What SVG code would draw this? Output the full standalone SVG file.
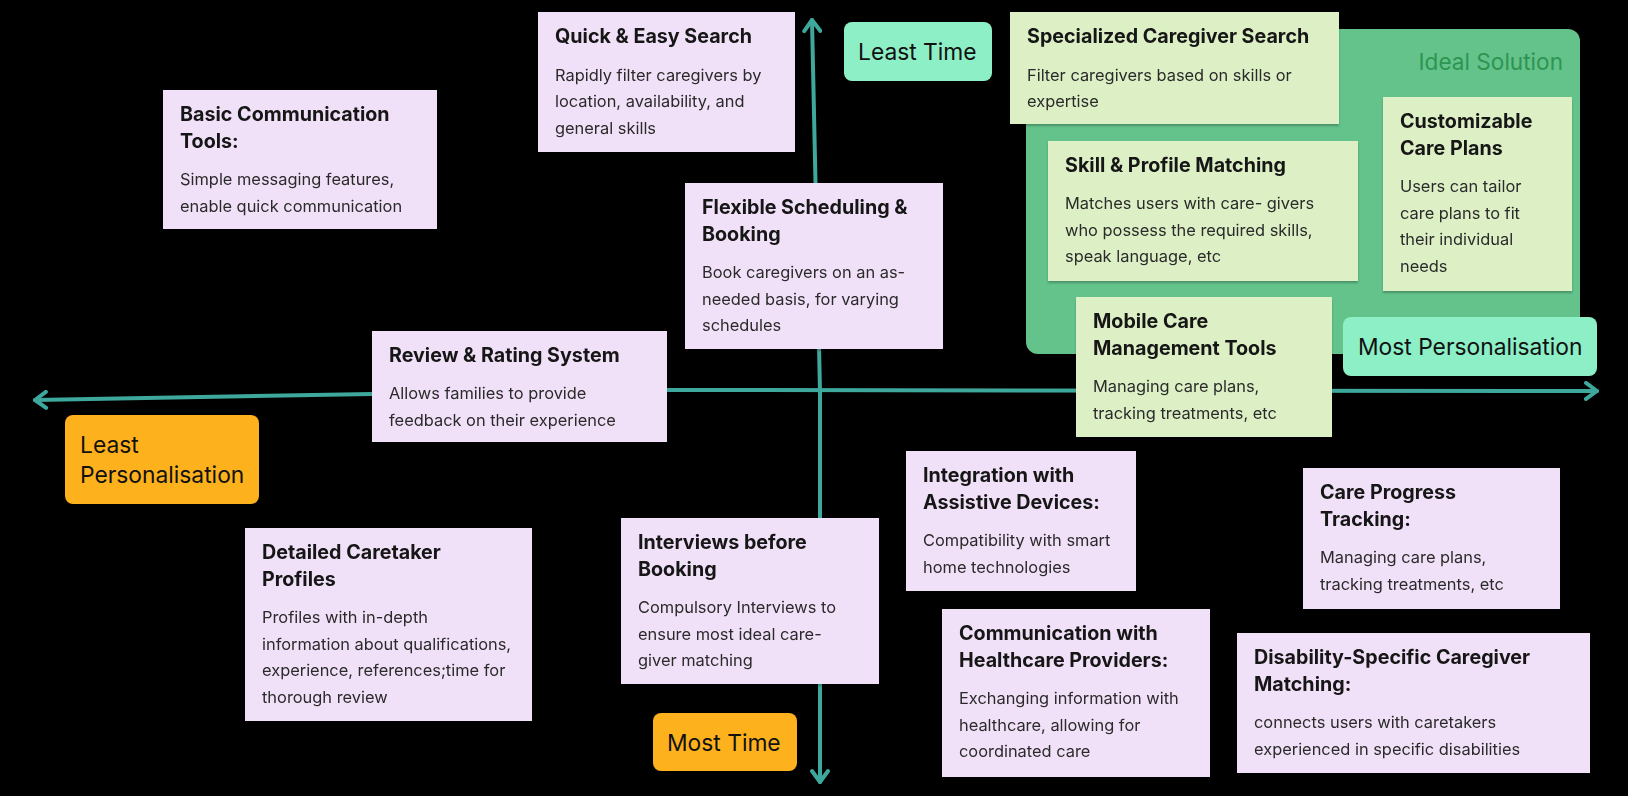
<svg xmlns="http://www.w3.org/2000/svg" width="1628" height="796" viewBox="0 0 1628 796">
<defs>
<style>
.t{font-family:Inter,"Liberation Sans",sans-serif;font-weight:700;font-size:19.7px;fill:#161616}
.b{font-family:Inter,"Liberation Sans",sans-serif;font-weight:400;font-size:16.4px;fill:#2a2a2a}
.l{font-family:Inter,"Liberation Sans",sans-serif;font-weight:400;font-size:22.8px;fill:#111}
.pu{fill:#f1e1f8}
.gr{fill:#ddf0c5}
.mint{fill:#8cefc6}
.or{fill:#fdb11d}
.ax{fill:none;stroke:#3ea89d;stroke-width:4;stroke-linejoin:round;stroke-linecap:round}
</style>
<marker id="arr" viewBox="0 0 20 20" refX="18" refY="10" markerWidth="20" markerHeight="20" markerUnits="userSpaceOnUse" orient="auto-start-reverse">
<path d="M7 2 L18 10 L7 18" fill="none" stroke="#3ea89d" stroke-width="4" stroke-linecap="round" stroke-linejoin="round"/>
</marker>
<filter id="sh" x="-5%" y="-5%" width="110%" height="115%">
<feDropShadow dx="0" dy="2" stdDeviation="1.2" flood-color="#000" flood-opacity="0.25"/>
</filter>
</defs>
<rect width="1628" height="796" fill="#000"/>

<g id="ideal-solution">
<rect x="1026" y="29" width="554" height="325" rx="12" fill="#63c38b"/>
<text x="1563" y="70" text-anchor="end" style="font-family:Inter,'Liberation Sans',sans-serif;font-size:22.6px;fill:#2e9551">Ideal Solution</text>
</g>

<g id="connectors">
<path class="ax" d="M35 400 L372 394 L660 390 L1597 391" marker-start="url(#arr)" marker-end="url(#arr)"/>
<path class="ax" d="M812 20 L820 392 L820 782" marker-start="url(#arr)" marker-end="url(#arr)"/>
</g>

<g id="quick-easy-search" filter="url(#sh)">
<rect class="pu" x="538" y="12" width="257" height="140"/>
<text class="t" x="555" y="42.5">Quick &amp; Easy Search</text>
<text class="b" x="555" y="80.5">Rapidly filter caregivers by</text>
<text class="b" x="555" y="107">location, availability, and</text>
<text class="b" x="555" y="133.5">general skills</text>
</g>

<g id="basic-communication" filter="url(#sh)">
<rect class="pu" x="163" y="90" width="274" height="139"/>
<text class="t" x="180" y="120.5">Basic Communication</text>
<text class="t" x="180" y="147.5">Tools:</text>
<text class="b" x="180" y="185">Simple messaging features,</text>
<text class="b" x="180" y="211.5">enable quick communication</text>
</g>

<g id="flexible-scheduling" filter="url(#sh)">
<rect class="pu" x="685" y="183" width="258" height="166"/>
<text class="t" x="702" y="213.5">Flexible Scheduling &amp;</text>
<text class="t" x="702" y="240.5">Booking</text>
<text class="b" x="702" y="278">Book caregivers on an as-</text>
<text class="b" x="702" y="304.5">needed basis, for varying</text>
<text class="b" x="702" y="331">schedules</text>
</g>

<g id="review-rating" filter="url(#sh)">
<rect class="pu" x="372" y="331" width="295" height="111"/>
<text class="t" x="389" y="361.5">Review &amp; Rating System</text>
<text class="b" x="389" y="399">Allows families to provide</text>
<text class="b" x="389" y="425.5">feedback on their experience</text>
</g>

<g id="least-personalisation">
<rect class="or" x="65" y="415" width="194" height="89" rx="8"/>
<text class="l" x="80" y="453">Least</text>
<text class="l" x="80" y="483">Personalisation</text>
</g>

<g id="detailed-caretaker-profiles" filter="url(#sh)">
<rect class="pu" x="245" y="528" width="287" height="193"/>
<text class="t" x="262" y="558.5">Detailed Caretaker</text>
<text class="t" x="262" y="585.5">Profiles</text>
<text class="b" x="262" y="623">Profiles with in-depth</text>
<text class="b" x="262" y="649.5">information about qualifications,</text>
<text class="b" x="262" y="676">experience, references;time for</text>
<text class="b" x="262" y="702.5">thorough review</text>
</g>

<g id="interviews-before-booking" filter="url(#sh)">
<rect class="pu" x="621" y="518" width="258" height="166"/>
<text class="t" x="638" y="548.5">Interviews before</text>
<text class="t" x="638" y="575.5">Booking</text>
<text class="b" x="638" y="613">Compulsory Interviews to</text>
<text class="b" x="638" y="639.5">ensure most ideal care-</text>
<text class="b" x="638" y="666">giver matching</text>
</g>

<g id="most-time">
<rect class="or" x="653" y="713" width="144" height="58" rx="8"/>
<text class="l" x="667" y="750.5">Most Time</text>
</g>

<g id="least-time">
<rect class="mint" x="844" y="22" width="148" height="59" rx="8"/>
<text class="l" x="858" y="59.5">Least Time</text>
</g>

<g id="specialized-caregiver-search" filter="url(#sh)">
<rect class="gr" x="1010" y="12" width="329" height="112"/>
<text class="t" x="1027" y="42.5">Specialized Caregiver Search</text>
<text class="b" x="1027" y="80.5">Filter caregivers based on skills or</text>
<text class="b" x="1027" y="107">expertise</text>
</g>

<g id="skill-profile-matching" filter="url(#sh)">
<rect class="gr" x="1048" y="141" width="310" height="140"/>
<text class="t" x="1065" y="171.5">Skill &amp; Profile Matching</text>
<text class="b" x="1065" y="209">Matches users with care- givers</text>
<text class="b" x="1065" y="235.5">who possess the required skills,</text>
<text class="b" x="1065" y="262">speak language, etc</text>
</g>

<g id="customizable-care-plans" filter="url(#sh)">
<rect class="gr" x="1383" y="97" width="189" height="194"/>
<text class="t" x="1400" y="127.5">Customizable</text>
<text class="t" x="1400" y="154.5">Care Plans</text>
<text class="b" x="1400" y="192">Users can tailor</text>
<text class="b" x="1400" y="218.5">care plans to fit</text>
<text class="b" x="1400" y="245">their individual</text>
<text class="b" x="1400" y="271.5">needs</text>
</g>

<g id="mobile-care-management" filter="url(#sh)">
<rect class="gr" x="1076" y="297" width="256" height="140"/>
<text class="t" x="1093" y="327.5">Mobile Care</text>
<text class="t" x="1093" y="354.5">Management Tools</text>
<text class="b" x="1093" y="392">Managing care plans,</text>
<text class="b" x="1093" y="418.5">tracking treatments, etc</text>
</g>

<g id="most-personalisation">
<rect class="mint" x="1343" y="317" width="254" height="59" rx="8"/>
<text class="l" x="1358" y="355">Most Personalisation</text>
</g>

<g id="integration-assistive-devices" filter="url(#sh)">
<rect class="pu" x="906" y="451" width="230" height="140"/>
<text class="t" x="923" y="481.5">Integration with</text>
<text class="t" x="923" y="508.5">Assistive Devices:</text>
<text class="b" x="923" y="546">Compatibility with smart</text>
<text class="b" x="923" y="572.5">home technologies</text>
</g>

<g id="care-progress-tracking" filter="url(#sh)">
<rect class="pu" x="1303" y="468" width="257" height="141"/>
<text class="t" x="1320" y="498.5">Care Progress</text>
<text class="t" x="1320" y="525.5">Tracking:</text>
<text class="b" x="1320" y="563">Managing care plans,</text>
<text class="b" x="1320" y="589.5">tracking treatments, etc</text>
</g>

<g id="communication-healthcare" filter="url(#sh)">
<rect class="pu" x="942" y="609" width="268" height="168"/>
<text class="t" x="959" y="639.5">Communication with</text>
<text class="t" x="959" y="666.5">Healthcare Providers:</text>
<text class="b" x="959" y="704">Exchanging information with</text>
<text class="b" x="959" y="730.5">healthcare, allowing for</text>
<text class="b" x="959" y="757">coordinated care</text>
</g>

<g id="disability-specific-matching" filter="url(#sh)">
<rect class="pu" x="1237" y="633" width="353" height="140"/>
<text class="t" x="1254" y="663.5">Disability-Specific Caregiver</text>
<text class="t" x="1254" y="690.5">Matching:</text>
<text class="b" x="1254" y="728">connects users with caretakers</text>
<text class="b" x="1254" y="754.5">experienced in specific disabilities</text>
</g>
</svg>
